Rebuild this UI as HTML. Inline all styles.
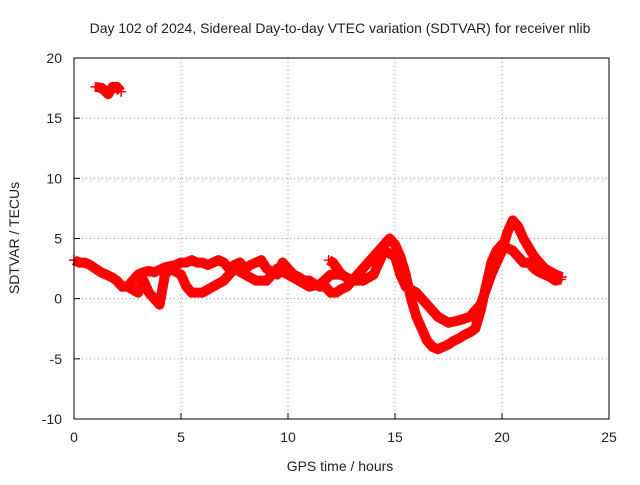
<!DOCTYPE html>
<html><head><meta charset="utf-8"><style>
body{margin:0;background:#fff}
svg text{font-family:"Liberation Sans",sans-serif;font-size:14px;fill:#222}
</style></head><body>
<svg id="chart" width="640" height="480">
<rect width="640" height="480" fill="#fff"/>
<text x="340" y="33" text-anchor="middle">Day 102 of 2024, Sidereal Day-to-day VTEC variation (SDTVAR) for receiver nlib</text>
<g id="grid"></g>
<g id="axes"></g>
<g id="marks"></g>
<rect x="74" y="58" width="535" height="361" fill="none" stroke="#000"/>
<text x="340" y="471" text-anchor="middle">GPS time / hours</text>
<text transform="translate(19,238) rotate(-90)" text-anchor="middle">SDTVAR / TECUs</text>
</svg>
<script>
const xTicks=[0,5,10,15,20,25];
const yTicks=[-10,-5,0,5,10,15,20];
const timesA=[0,0.25,0.5,0.75,1,1.25,1.5,1.75,2,2.25,2.5,2.75,3,3.25,3.5,3.75,4,4.25,4.5,4.75,5,5.25,5.5,5.75,6,6.25,6.5,6.75,7,7.25,7.5,7.75,8,8.25,8.5,8.75,9,9.25,9.5,9.75,10,10.25,10.5,10.75,11,11.25,11.5,11.75,12,12.25,12.5,12.75,13,13.25,13.5,13.75,14,14.25,14.5,14.75,15,15.25,15.5,15.75,16,16.25,16.5,16.75,17,17.25,17.5,17.75,18,18.25,18.5,18.75,19,19.25,19.5,19.75,20,20.25,20.5,20.75,21,21.25,21.5,21.75,22,22.25,22.5,22.75];
const valuesA=[3.2,3.0,3.0,2.8,2.5,2.2,2.0,1.8,1.5,1.0,1.0,1.5,2.0,2.2,2.3,2.2,2.4,2.6,2.7,2.8,3.0,3.0,3.2,3.0,3.0,2.8,3.0,3.2,3.0,2.5,2.8,3.0,2.5,2.8,3.0,3.2,2.5,2.2,2.0,3.0,2.5,2.0,1.8,1.5,1.5,1.2,1.0,1.0,0.5,0.5,0.8,1.0,1.5,2.0,2.5,3.0,3.5,4.0,4.5,5.0,4.5,3.5,2.0,0,-1.5,-2.5,-3.5,-4,-4.2,-4,-3.8,-3.5,-3.3,-3,-2.8,-2.5,-1,1,3.0,4.0,4.5,4.2,4.0,3.5,3.0,3.0,2.5,2.2,2.0,1.8,1.5,1.6];
const timesB=[2.5,3,3.25,3.5,3.75,4,4.25,4.5,5,5.25,5.5,6,6.5,7,7.5,8,8.5,9,9.5,10,10.5,11,11.5,12,12.5,13,13.5,14,14.5,15,15.25,15.5,16,16.5,17,17.5,18,18.5,19,19.5,20,20.25,20.5,20.75,21,21.5,22,22.5,22.8];
const valuesB=[1.0,0.5,1.5,0.5,0,-0.5,2.0,2.5,2.0,1.0,0.5,0.5,1.0,1.5,2.5,2.0,1.5,1.5,2.5,2.0,1.5,1.0,1.2,2.0,2.0,1.5,1.5,2.0,4.0,3.5,2.0,1.0,0.5,-0.5,-1.5,-2.0,-1.8,-1.5,-0.5,2.0,4.0,5.5,6.5,6.0,5.0,3.5,2.5,2.0,1.8];
const timesC=[1.0,1.3,1.6,1.8,2.0,2.2];
const valuesC=[17.6,17.5,17.0,17.6,17.6,17.2];
const timesD=[11.9,12.1,12.3,12.5];
const valuesD=[3.2,3.0,2.5,2.0];
const NS='http://www.w3.org/2000/svg';
const X=t=>74+t*535/25, Y=v=>419-(v+10)*361/30;
const grid=document.getElementById('grid'),axes=document.getElementById('axes'),marks=document.getElementById('marks');
function mk(tag,attrs,parent){const e=document.createElementNS(NS,tag);for(const k in attrs)e.setAttribute(k,attrs[k]);parent.appendChild(e);return e;}
xTicks.forEach(t=>{
 if(t>0&&t<25){const g=mk('line',{x1:X(t),x2:X(t),y1:58,y2:419,stroke:'#999','stroke-dasharray':'1,3'},grid);}
 mk('line',{x1:X(t),x2:X(t),y1:419,y2:413,stroke:'#000'},axes);
 const l=mk('text',{x:X(t),y:442,'text-anchor':'middle'},axes);l.textContent=t;
 
 
});
yTicks.forEach(v=>{
 if(v>-10&&v<20){const g=mk('line',{x1:74,x2:609,y1:Y(v),y2:Y(v),stroke:'#999','stroke-dasharray':'1,3'},grid);}
 mk('line',{x1:74,x2:80,y1:Y(v),y2:Y(v),stroke:'#000'},axes);
 const l=mk('text',{x:62,y:Y(v)+5,'text-anchor':'end'},axes);l.textContent=v;
 
 
});
function series(ts,vs,name){
 const g=mk('g',{},marks);
 
 
 mk('polyline',{points:ts.map((t,i)=>X(t)+','+Y(vs[i])).join(' '),fill:'none',stroke:'#f00','stroke-width':10,'stroke-linejoin':'round'},g);
 ts.forEach((t,i)=>{const x=X(t),y=Y(vs[i]);
  const p=mk('path',{d:`M${x-5},${y}h10M${x},${y-5}v10`,stroke:'#f00','stroke-width':1.5},g);
  
  
 });
}
series(timesA,valuesA,'series-main-band');
series(timesB,valuesB,'series-second-band');
series(timesC,valuesC,'series-outlier-cluster');
series(timesD,valuesD,'series-branch');
</script>
</body></html>
